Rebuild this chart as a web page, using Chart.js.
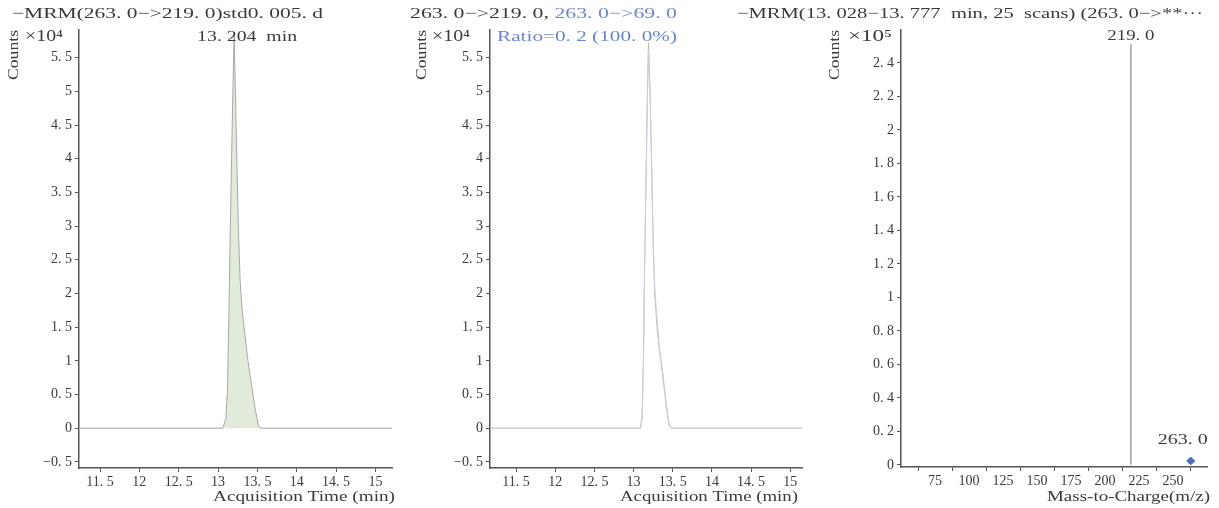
<!DOCTYPE html>
<html>
<head>
<meta charset="utf-8">
<script src="https://cdn.jsdelivr.net/npm/chart.js@4.4.1/dist/chart.umd.min.js"></script>
<style>
html, body { margin: 0; padding: 0; background: #fff; }
#wrap { position: relative; width: 1219px; height: 508px; }
#wrap canvas { position: absolute; left: 0; top: 0; }
</style>
</head>
<body>
<div id="wrap">
    <canvas id="chart1" width="1219" height="508"></canvas>
    <canvas id="chart2" width="1219" height="508"></canvas>
    <canvas id="chart3" width="1219" height="508"></canvas>
</div>
<script>
const FONT = "'Liberation Serif', 'DejaVu Serif', serif";
const INK = '#3a3a3a';
const BLUE = '#6a86cf';
const AXIS = '#555';

// Panel 1: MRM 263.0 -> 219.0 chromatogram (counts x10^4)
const quantTimes = [11.233, 13.06, 13.10, 13.12, 13.135, 13.15, 13.17, 13.19, 13.204, 13.22, 13.24, 13.26, 13.28, 13.31, 13.34, 13.38, 13.43, 13.47, 13.51, 13.54, 15.21];
const quantCounts = [0, 0, 0.15, 0.6, 1.5, 2.6, 3.9, 5.1, 5.88, 5.0, 3.9, 2.9, 2.2, 1.7, 1.4, 1.0, 0.6, 0.3, 0.05, 0, 0];
const quantPeakTime = 13.204;

// Panel 2: quantifier 219.0 and qualifier 69.0 overlay (counts x10^4)
const overlayTimes = [11.167, 13.09, 13.11, 13.125, 13.14, 13.16, 13.175, 13.19, 13.21, 13.23, 13.25, 13.27, 13.30, 13.33, 13.37, 13.41, 13.45, 13.48, 15.15];
const overlayQuant = [0, 0, 0.2, 1.0, 2.4, 3.8, 4.9, 5.72, 5.0, 3.9, 2.7, 2.0, 1.5, 1.15, 0.8, 0.4, 0.05, 0, 0];
const overlayQual = [0, 0, 0.15, 0.9, 2.3, 3.7, 4.8, 5.6, 4.95, 3.95, 2.8, 2.1, 1.6, 1.2, 0.85, 0.45, 0.08, 0, 0];

// Panel 3: product ion spectrum (counts x10^5)
const specMz = [219.0, 263.0];
const specCounts = [2.51, 0.004];
const precursorMz = [263.0];
const precursorCounts = [0.024];

// tick labels
const timeTicks = [11.5, 12, 12.5, 13, 13.5, 14, 14.5, 15];
const countTicks = [-0.5, 0, 0.5, 1, 1.5, 2, 2.5, 3, 3.5, 4, 4.5, 5, 5.5];
const mzTicks = [75, 100, 125, 150, 175, 200, 225, 250];
const specTicks = [0, 0.2, 0.4, 0.6, 0.8, 1, 1.2, 1.4, 1.6, 1.8, 2, 2.2, 2.4];

function fmt(v) {
    const s = (Math.round(v * 10) / 10).toString();
    return s.replace('-', '\u2212').replace('.', '. ');
}

function toPoints(xs, ys) {
    return xs.map((x, i) => ({ x: x, y: ys[i] }));
}

// draws free text, optionally stretched to a given width
function textLayer(items) {
    return {
        id: 'textLayer',
        afterDraw(chart) {
            const ctx = chart.ctx;
            items.forEach(it => {
                const pos = typeof it.at === 'function' ? it.at(chart) : it.at;
                ctx.save();
                ctx.font = (it.size || 14) + 'px ' + FONT;
                ctx.textBaseline = 'middle';
                ctx.textAlign = 'left';
                const full = it.parts.map(p => p.text).join('');
                const natural = ctx.measureText(full).width;
                const sx = it.width ? it.width / natural : 1;
                ctx.translate(pos[0], pos[1]);
                if (it.rotate) ctx.rotate(it.rotate);
                let start = 0;
                if (it.align === 'center') start = -natural * sx / 2;
                else if (it.align === 'right') start = -natural * sx;
                ctx.translate(start, 0);
                ctx.scale(sx, 1);
                let cx = 0;
                it.parts.forEach(p => {
                    ctx.fillStyle = p.color || INK;
                    ctx.fillText(p.text, cx, 0);
                    cx += ctx.measureText(p.text).width;
                });
                ctx.restore();
            });
        }
    };
}

function xAxis(min, max, ticks, height) {
    return {
        type: 'linear',
        min: min,
        max: max,
        offset: false,
        afterBuildTicks: s => { s.ticks = ticks.map(v => ({ value: v })); },
        afterFit: s => { s.height = height; },
        border: { color: AXIS, width: 1.5 },
        grid: { drawOnChartArea: false, tickLength: 4, color: AXIS },
        ticks: {
            color: INK,
            font: { family: FONT, size: 14 },
            padding: 2,
            maxRotation: 0,
            autoSkip: false,
            callback: v => fmt(v)
        }
    };
}

function yAxis(min, max, ticks) {
    return {
        type: 'linear',
        min: min,
        max: max,
        afterBuildTicks: s => { s.ticks = ticks.map(v => ({ value: v })); },
        afterFit: s => { s.width = 79; },
        border: { color: AXIS, width: 1.5 },
        grid: { drawOnChartArea: false, tickLength: 4, color: AXIS },
        ticks: {
            color: INK,
            font: { family: FONT, size: 14 },
            padding: 3,
            autoSkip: false,
            callback: v => fmt(v)
        }
    };
}

const baseOptions = {
    responsive: false,
    animation: false,
    devicePixelRatio: 1,
    plugins: { legend: { display: false }, tooltip: { enabled: false } }
};

// Chart 1: quantifier chromatogram
new Chart(document.getElementById('chart1'), {
    type: 'scatter',
    data: {
        datasets: [{
            data: toPoints(quantTimes, quantCounts),
            showLine: true,
            pointRadius: 0,
            borderColor: '#a8a8a8',
            borderWidth: 1,
            backgroundColor: '#e2ebda',
            fill: 'origin',
            tension: 0
        }]
    },
    options: Object.assign({}, baseOptions, {
        layout: { padding: { left: 0, right: 827, top: 30, bottom: 0 } },
        scales: {
            x: xAxis(11.233, 15.21, timeTicks, 40),
            y: yAxis(-0.59, 5.91, countTicks)
        }
    }),
    plugins: [textLayer([
        { at: [12, 14], size: 15, width: 311, parts: [{ text: '\u2212MRM(263. 0\u2212>219. 0)std0. 005. d' }] },
        { at: c => [c.scales.x.getPixelForValue(quantPeakTime) - 37, 37], width: 100, parts: [{ text: '13. 204  min' }] },
        { at: [14, 55], rotate: -Math.PI / 2, align: 'center', width: 50, parts: [{ text: 'Counts' }] },
        { at: [25, 37], size: 16, width: 38, parts: [{ text: '\u00d710\u2074' }] },
        { at: [395, 497], align: 'right', width: 182, parts: [{ text: 'Acquisition Time (min)' }] }
    ])]
});

// Chart 2: quantifier / qualifier overlay
new Chart(document.getElementById('chart2'), {
    type: 'scatter',
    data: {
        datasets: [
            {
                data: toPoints(overlayTimes, overlayQual),
                showLine: true,
                pointRadius: 0,
                borderColor: '#cdd0da',
                borderWidth: 1,
                tension: 0
            },
            {
                data: toPoints(overlayTimes, overlayQuant),
                showLine: true,
                pointRadius: 0,
                borderColor: '#b8b8b8',
                borderWidth: 1,
                tension: 0
            }
        ]
    },
    options: Object.assign({}, baseOptions, {
        layout: { padding: { left: 411, right: 417, top: 30, bottom: 0 } },
        scales: {
            x: xAxis(11.167, 15.15, timeTicks, 40),
            y: yAxis(-0.59, 5.91, countTicks)
        }
    }),
    plugins: [textLayer([
        { at: [410, 14], size: 15, width: 267, parts: [{ text: '263. 0\u2212>219. 0, ' }, { text: '263. 0\u2212>69. 0', color: BLUE }] },
        { at: [497, 37], width: 180, parts: [{ text: 'Ratio=0. 2 (100. 0%)', color: BLUE }] },
        { at: [422, 55], rotate: -Math.PI / 2, align: 'center', width: 50, parts: [{ text: 'Counts' }] },
        { at: [432, 37], size: 16, width: 38, parts: [{ text: '\u00d710\u2074' }] },
        { at: [798, 497], align: 'right', width: 178, parts: [{ text: 'Acquisition Time (min)' }] }
    ])]
});

// Chart 3: spectrum
new Chart(document.getElementById('chart3'), {
    type: 'bar',
    data: {
        datasets: [
            {
                type: 'bar',
                data: toPoints(specMz, specCounts),
                backgroundColor: '#a8a8a8',
                barThickness: 1
            },
            {
                type: 'scatter',
                data: toPoints(precursorMz, precursorCounts),
                pointStyle: 'rectRot',
                pointRadius: 4,
                backgroundColor: '#4a6fc4',
                borderColor: '#4a6fc4'
            }
        ]
    },
    options: Object.assign({}, baseOptions, {
        layout: { padding: { left: 822, right: 12, top: 30, bottom: 0 } },
        scales: {
            x: xAxis(50, 275, mzTicks, 41),
            y: yAxis(-0.012, 2.597, specTicks)
        }
    }),
    plugins: [textLayer([
        { at: [737, 14], size: 15, width: 466, parts: [{ text: '\u2212MRM(13. 028\u221213. 777  min, 25  scans) (263. 0\u2212>**\u00b7\u00b7\u00b7' }] },
        { at: c => [c.scales.x.getPixelForValue(specMz[0]), 36], align: 'center', width: 47, parts: [{ text: '219. 0' }] },
        { at: c => [c.scales.x.getPixelForValue(precursorMz[0]) - 8, 440], align: 'center', width: 50, parts: [{ text: '263. 0' }] },
        { at: [835, 55], rotate: -Math.PI / 2, align: 'center', width: 50, parts: [{ text: 'Counts' }] },
        { at: [848, 37], size: 16, width: 44, parts: [{ text: '\u00d710\u2075' }] },
        { at: [1210, 497], align: 'right', width: 163, parts: [{ text: 'Mass-to-Charge(m/z)' }] }
    ])]
});
</script>
</body>
</html>
